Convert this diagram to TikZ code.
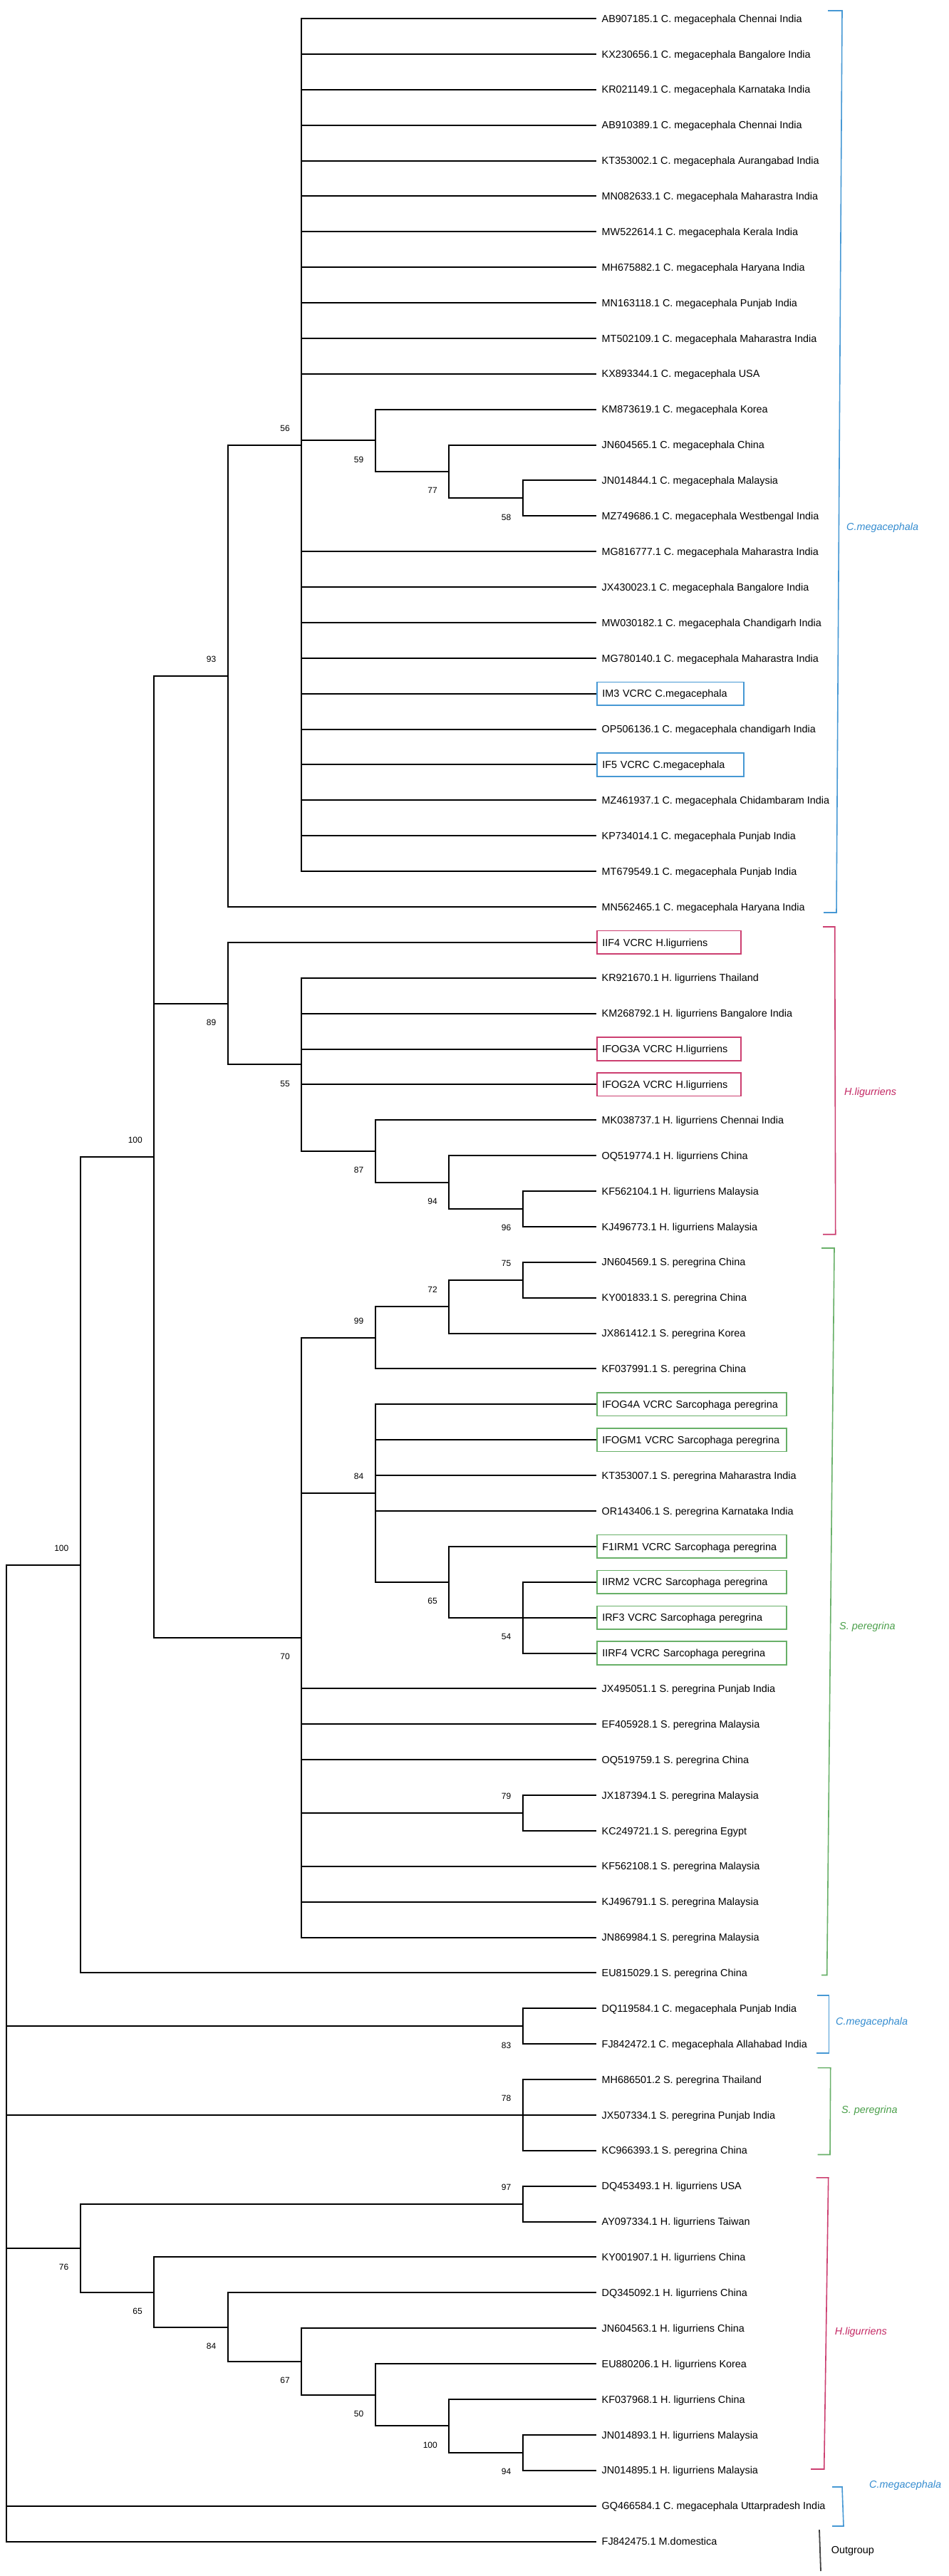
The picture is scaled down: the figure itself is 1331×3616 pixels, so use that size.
\documentclass[tikz,border=0pt]{standalone}
\usepackage{fontspec}
\setmainfont{Liberation Sans}
\definecolor{cmeg}{RGB}{70,152,212}
\definecolor{hlig}{RGB}{204,62,112}
\definecolor{sper}{RGB}{104,176,104}
\definecolor{cmegt}{RGB}{52,140,208}
\definecolor{hligt}{RGB}{196,40,100}
\definecolor{spert}{RGB}{76,160,76}
\begin{document}
\begin{tikzpicture}[x=1pt,y=-1pt,
  br/.style={line width=2pt, line join=miter},
  tip/.style={anchor=west, inner xsep=7.5pt, inner ysep=2pt, font=\fontsize{14.4}{16}\selectfont, text height=10.3pt, text depth=0pt},
  boxc/.style={tip, draw=cmeg, line width=1.6pt, minimum height=32.5pt, text width=191pt, align=left},
  boxh/.style={tip, draw=hlig, line width=1.6pt, minimum height=32.5pt, text width=187pt, align=left},
  boxs/.style={tip, draw=sper, line width=1.6pt, minimum height=32.5pt, text width=251pt, align=left},
  bs/.style={font=\fontsize{12}{14}\selectfont, inner sep=0pt, anchor=east, text height=8.6pt, text depth=0pt},
  bsa/.style={bs, xshift=-16pt, yshift=23.5pt},
  bsb/.style={bs, xshift=-16pt, yshift=-26.5pt},
  clade/.style={anchor=west, inner sep=0pt, font=\fontsize{14.4}{16}\selectfont\itshape},
  brk/.style={line width=1.6pt, line join=miter}
]
\fill[white] (0,0) rectangle (1331,3616);
\useasboundingbox (0,0) rectangle (1331,3616);

% ---------- tips ----------
\foreach \i/\t in {
1/{AB907185.1 C. megacephala Chennai India},
2/{KX230656.1 C. megacephala Bangalore India},
3/{KR021149.1 C. megacephala Karnataka India},
4/{AB910389.1 C. megacephala Chennai India},
5/{KT353002.1 C. megacephala Aurangabad India},
6/{MN082633.1 C. megacephala Maharastra India},
7/{MW522614.1 C. megacephala Kerala India},
8/{MH675882.1 C. megacephala Haryana India},
9/{MN163118.1 C. megacephala Punjab India},
10/{MT502109.1 C. megacephala Maharastra India},
11/{KX893344.1 C. megacephala USA},
12/{KM873619.1 C. megacephala Korea},
13/{JN604565.1 C. megacephala China},
14/{JN014844.1 C. megacephala Malaysia},
15/{MZ749686.1 C. megacephala Westbengal India},
16/{MG816777.1 C. megacephala Maharastra India},
17/{JX430023.1 C. megacephala Bangalore India},
18/{MW030182.1 C. megacephala Chandigarh India},
19/{MG780140.1 C. megacephala Maharastra India},
21/{OP506136.1 C. megacephala chandigarh India},
23/{MZ461937.1 C. megacephala Chidambaram India},
24/{KP734014.1 C. megacephala Punjab India},
25/{MT679549.1 C. megacephala Punjab India},
26/{MN562465.1 C. megacephala Haryana India},
28/{KR921670.1 H. ligurriens Thailand},
29/{KM268792.1 H. ligurriens Bangalore India},
32/{MK038737.1 H. ligurriens Chennai India},
33/{OQ519774.1 H. ligurriens China},
34/{KF562104.1 H. ligurriens Malaysia},
35/{KJ496773.1 H. ligurriens Malaysia},
36/{JN604569.1 S. peregrina China},
37/{KY001833.1 S. peregrina China},
38/{JX861412.1 S. peregrina Korea},
39/{KF037991.1 S. peregrina China},
42/{KT353007.1 S. peregrina Maharastra India},
43/{OR143406.1 S. peregrina Karnataka India},
48/{JX495051.1 S. peregrina Punjab India},
49/{EF405928.1 S. peregrina Malaysia},
50/{OQ519759.1 S. peregrina China},
51/{JX187394.1 S. peregrina Malaysia},
52/{KC249721.1 S. peregrina Egypt},
53/{KF562108.1 S. peregrina Malaysia},
54/{KJ496791.1 S. peregrina Malaysia},
55/{JN869984.1 S. peregrina Malaysia},
56/{EU815029.1 S. peregrina China},
57/{DQ119584.1 C. megacephala Punjab India},
58/{FJ842472.1 C. megacephala Allahabad India},
59/{MH686501.2 S. peregrina Thailand},
60/{JX507334.1 S. peregrina Punjab India},
61/{KC966393.1 S. peregrina China},
62/{DQ453493.1 H. ligurriens USA},
63/{AY097334.1 H. ligurriens Taiwan},
64/{KY001907.1 H. ligurriens China},
65/{DQ345092.1 H. ligurriens China},
66/{JN604563.1 H. ligurriens China},
67/{EU880206.1 H. ligurriens Korea},
68/{KF037968.1 H. ligurriens China},
69/{JN014893.1 H. ligurriens Malaysia},
70/{JN014895.1 H. ligurriens Malaysia},
71/{GQ466584.1 C. megacephala Uttarpradesh India},
72/{FJ842475.1 M.domestica}}
  \node[tip] (t\i) at (837,{26+(\i-1)*49.88}) {\t};

\node[boxc] (t20) at (837,{26+19*49.88}) {IM3 VCRC C.megacephala};
\node[boxc] (t22) at (837,{26+21*49.88}) {IF5 VCRC C.megacephala};
\node[boxh] (t27) at (837,{26+26*49.88}) {IIF4 VCRC H.ligurriens};
\node[boxh] (t30) at (837,{26+29*49.88}) {IFOG3A VCRC H.ligurriens};
\node[boxh] (t31) at (837,{26+30*49.88}) {IFOG2A VCRC H.ligurriens};
\node[boxs] (t40) at (837,{26+39*49.88}) {IFOG4A VCRC Sarcophaga peregrina};
\node[boxs] (t41) at (837,{26+40*49.88}) {IFOGM1 VCRC Sarcophaga peregrina};
\node[boxs] (t44) at (837,{26+43*49.88}) {F1IRM1 VCRC Sarcophaga peregrina};
\node[boxs] (t45) at (837,{26+44*49.88}) {IIRM2 VCRC Sarcophaga peregrina};
\node[boxs] (t46) at (837,{26+45*49.88}) {IRF3 VCRC Sarcophaga peregrina};
\node[boxs] (t47) at (837,{26+46*49.88}) {IIRF4 VCRC Sarcophaga peregrina};

% ---------- internal nodes ----------
\coordinate (root) at (9,2882.02);
\coordinate (nX) at (112.5,2196.56);
\coordinate (nY) at (216,1623.72);
\coordinate (n93) at (319.5,948.78);
\coordinate (n56) at (423,624.56);
\coordinate (n59) at (526.5,618.33);
\coordinate (n77) at (630,661.97);
\coordinate (n58) at (733.5,699.38);
\coordinate (n89) at (319.5,1408.61);
\coordinate (n55) at (423,1494.34);
\coordinate (n87) at (526.5,1615.93);
\coordinate (n94) at (630,1659.57);
\coordinate (n96) at (733.5,1696.98);
\coordinate (n70) at (423,2298.66);
\coordinate (n99) at (526.5,1877.80);
\coordinate (n72) at (630,1834.15);
\coordinate (n75) at (733.5,1796.74);
\coordinate (n84) at (526.5,2096.02);
\coordinate (n65) at (630,2220.72);
\coordinate (n54) at (733.5,2270.60);
\coordinate (n79) at (733.5,2544.94);
\coordinate (n83) at (733.5,2844.22);
\coordinate (n78) at (733.5,2968.92);
\coordinate (n76) at (112.5,3155.58);
\coordinate (n97) at (733.5,3093.62);
\coordinate (n65b) at (216,3217.54);
\coordinate (n84b) at (319.5,3266.64);
\coordinate (n67) at (423,3314.96);
\coordinate (n50) at (526.5,3361.73);
\coordinate (n100b) at (630,3405.37);
\coordinate (n94b) at (733.5,3442.78);

% ---------- branches ----------
\foreach \c in {nX,n83,n78,n76} \draw[br] (root) |- (\c);
\foreach \k in {71,72} \draw[br] (root) |- (t\k.west);
\draw[br] (nX) |- (nY);
\draw[br] (nX) |- (t56.west);
\foreach \c in {n93,n89,n70} \draw[br] (nY) |- (\c);
\draw[br] (n93) |- (n56);
\draw[br] (n93) |- (t26.west);
\foreach \k in {1,...,11,16,17,...,25} \draw[br] (n56) |- (t\k.west);
\draw[br] (n56) |- (n59);
\draw[br] (n59) |- (t12.west);
\draw[br] (n59) |- (n77);
\draw[br] (n77) |- (t13.west);
\draw[br] (n77) |- (n58);
\foreach \k in {14,15} \draw[br] (n58) |- (t\k.west);
\draw[br] (n89) |- (t27.west);
\draw[br] (n89) |- (n55);
\foreach \k in {28,29,30,31} \draw[br] (n55) |- (t\k.west);
\draw[br] (n55) |- (n87);
\draw[br] (n87) |- (t32.west);
\draw[br] (n87) |- (n94);
\draw[br] (n94) |- (t33.west);
\draw[br] (n94) |- (n96);
\foreach \k in {34,35} \draw[br] (n96) |- (t\k.west);
\foreach \c in {n99,n84,n79} \draw[br] (n70) |- (\c);
\foreach \k in {48,49,50,53,54,55} \draw[br] (n70) |- (t\k.west);
\draw[br] (n99) |- (n72);
\draw[br] (n99) |- (t39.west);
\draw[br] (n72) |- (n75);
\draw[br] (n72) |- (t38.west);
\foreach \k in {36,37} \draw[br] (n75) |- (t\k.west);
\foreach \k in {40,41,42,43} \draw[br] (n84) |- (t\k.west);
\draw[br] (n84) |- (n65);
\draw[br] (n65) |- (t44.west);
\draw[br] (n65) |- (n54);
\foreach \k in {45,46,47} \draw[br] (n54) |- (t\k.west);
\foreach \k in {51,52} \draw[br] (n79) |- (t\k.west);
\foreach \k in {57,58} \draw[br] (n83) |- (t\k.west);
\foreach \k in {59,60,61} \draw[br] (n78) |- (t\k.west);
\draw[br] (n76) |- (n97);
\draw[br] (n76) |- (n65b);
\foreach \k in {62,63} \draw[br] (n97) |- (t\k.west);
\draw[br] (n65b) |- (t64.west);
\draw[br] (n65b) |- (n84b);
\draw[br] (n84b) |- (t65.west);
\draw[br] (n84b) |- (n67);
\draw[br] (n67) |- (t66.west);
\draw[br] (n67) |- (n50);
\draw[br] (n50) |- (t67.west);
\draw[br] (n50) |- (n100b);
\draw[br] (n100b) |- (t68.west);
\draw[br] (n100b) |- (n94b);
\foreach \k in {69,70} \draw[br] (n94b) |- (t\k.west);

% ---------- bootstrap values ----------
\node[bsa] (b56) at (n56) {56};
\node[bsa] (b93) at (n93) {93};
\node[bsa] (bY) at (nY) {100};
\node[bsa] (bX) at (nX) {100};
\node[bsa] (b75) at (n75) {75};
\node[bsa] (b72) at (n72) {72};
\node[bsa] (b99) at (n99) {99};
\node[bsa] (b84) at (n84) {84};
\node[bsa] (b79) at (n79) {79};
\node[bsa] (b78) at (n78) {78};
\node[bsa] (b97) at (n97) {97};
\node[bsb] (b59) at (n59) {59};
\node[bsb] (b77) at (n77) {77};
\node[bsb] (b58) at (n58) {58};
\node[bsb] (b89) at (n89) {89};
\node[bsb] (b55) at (n55) {55};
\node[bsb] (b87) at (n87) {87};
\node[bsb] (b94) at (n94) {94};
\node[bsb] (b96) at (n96) {96};
\node[bsb] (b70) at (n70) {70};
\node[bsb] (b65) at (n65) {65};
\node[bsb] (b54) at (n54) {54};
\node[bsb] (b83) at (n83) {83};
\node[bsb] (b76) at (n76) {76};
\node[bsb] (b65b) at (n65b) {65};
\node[bsb] (b84b) at (n84b) {84};
\node[bsb] (b67) at (n67) {67};
\node[bsb] (b50) at (n50) {50};
\node[bsb] (b100b) at (n100b) {100};
\node[bsb] (b94b) at (n94b) {94};

% ---------- clade brackets ----------
\draw[brk, cmeg] (1162,15) -- (1182,15) -- (1174,1281) -- (1156,1281);
\draw[brk, hlig] (1155,1301) -- (1171.7,1301) -- (1172.7,1732.7) -- (1155,1732.7);
\draw[brk, sper] (1153,1752) -- (1171,1752) -- (1160.7,2772.5) -- (1153,2772.5);
\draw[brk, cmeg] (1146.7,2801) -- (1163.3,2801) -- (1163.3,2881.8) -- (1145.7,2881.8);
\draw[brk, sper] (1147.7,2902.6) -- (1165.7,2902.6) -- (1165,3024.5) -- (1147.7,3024.5);
\draw[brk, hlig] (1145.7,3056.8) -- (1162.7,3056.8) -- (1156.7,3466) -- (1138,3466);
\draw[brk, cmeg] (1168,3491) -- (1182,3491) -- (1184,3546) -- (1168,3546);
\draw[line width=1.8pt, black!75] (1150,3551) -- (1152,3609);

\node[clade, text=cmegt] (c1) at (1188,740.5) {C.megacephala};
\node[clade, text=hligt] (c2) at (1185,1533.7) {H.ligurriens};
\node[clade, text=spert] (c3) at (1178,2283.6) {S. peregrina};
\node[clade, text=cmegt] (c4) at (1173,2839) {C.megacephala};
\node[clade, text=spert] (c5) at (1181,2962.5) {S. peregrina};
\node[clade, text=hligt] (c6) at (1171.7,3273.4) {H.ligurriens};
\node[clade, text=cmegt] (c7) at (1220,3489) {C.megacephala};
\node[clade, font=\fontsize{14.4}{16}\selectfont] (og) at (1166.7,3581) {Outgroup};
\end{tikzpicture}
\end{document}
